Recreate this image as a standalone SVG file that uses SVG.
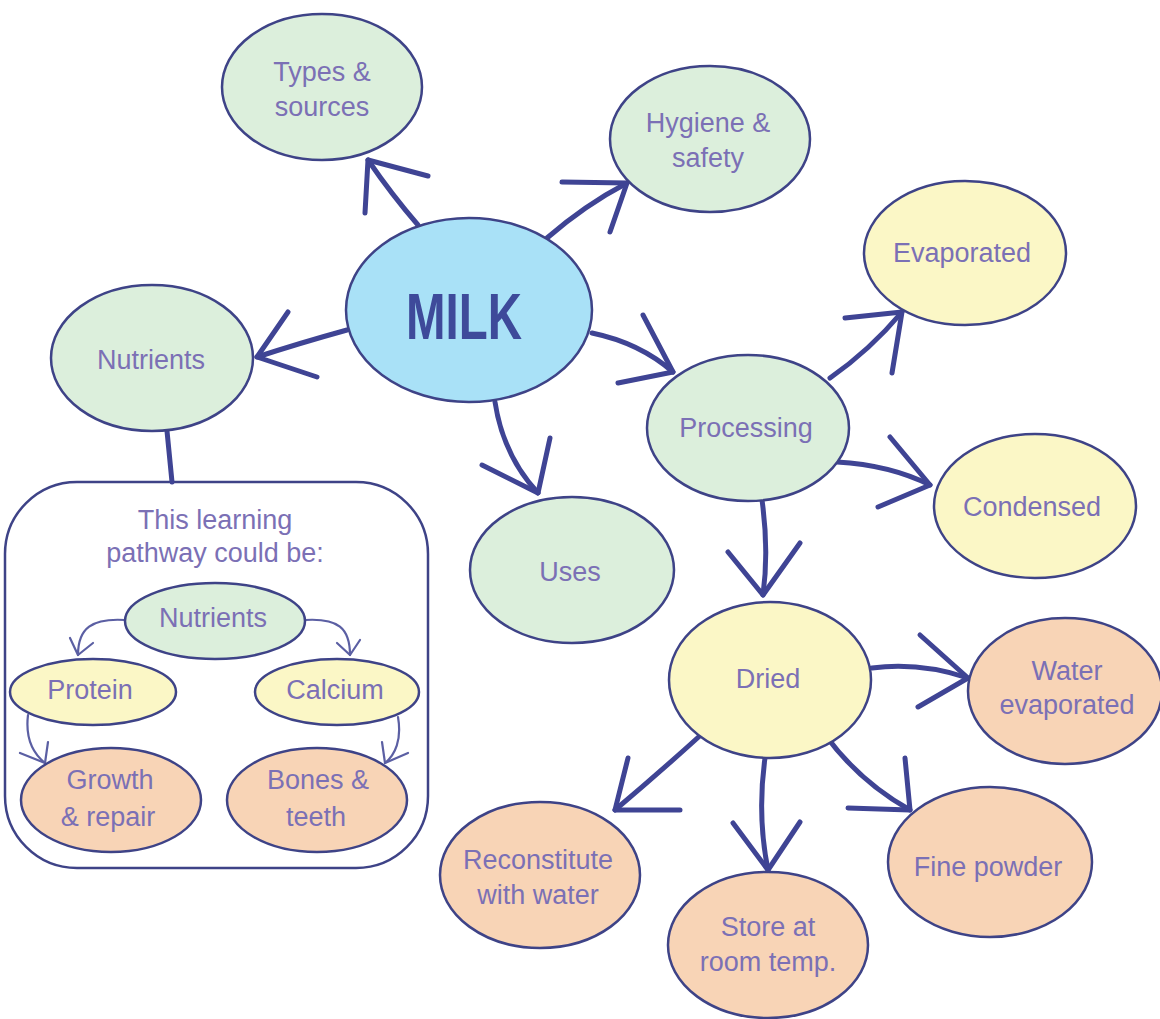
<svg xmlns="http://www.w3.org/2000/svg" width="1160" height="1019" viewBox="0 0 1160 1019">
<style>
  .node { stroke: #3e4387; stroke-width: 2.5; }
  .green { fill: #dcefdc; }
  .blue { fill: #a9e1f7; }
  .yellow { fill: #fbf7c6; }
  .orange { fill: #f8d4b6; }
  .lbl { font-family: "Liberation Sans", Arial, sans-serif; font-size: 27px; fill: #7b70b5; text-anchor: middle; }
  .conn { fill: none; stroke: #3f4494; stroke-width: 5; stroke-linecap: round; stroke-linejoin: round; }
  .thin { fill: none; stroke: #5b5fa3; stroke-width: 2.2; stroke-linecap: round; stroke-linejoin: round; }
  .box { fill: #ffffff; stroke: #3e4387; stroke-width: 2.5; }
</style>
<rect width="1160" height="1019" fill="#ffffff"/>

<g id="pathway-box">
  <rect class="box" x="5" y="482" width="423" height="386" rx="72" ry="72"/>
  <text class="lbl" x="215" y="529">This learning</text>
  <text class="lbl" x="215" y="562">pathway could be:</text>
</g>

<g id="connectors">
  <!-- MILK to Types & sources -->
  <path class="conn" d="M418,225 Q392,195 368,160"/>
  <path class="conn" d="M365,213 L368,160 L428,176"/>
  <!-- MILK to Hygiene -->
  <path class="conn" d="M547,238 Q585,205 627,183"/>
  <path class="conn" d="M562,182 L627,183 L610,232"/>
  <!-- MILK to Nutrients -->
  <path class="conn" d="M347,330 Q300,343 257,357"/>
  <path class="conn" d="M288,312 L257,357 L317,377"/>
  <!-- MILK to Processing -->
  <path class="conn" d="M592,333 Q640,343 673,372"/>
  <path class="conn" d="M643,315 L673,372 L618,383"/>
  <!-- MILK to Uses -->
  <path class="conn" d="M495,402 Q503,455 538,493"/>
  <path class="conn" d="M482,465 L538,493 L550,438"/>
  <!-- Processing to Evaporated -->
  <path class="conn" d="M830,378 Q870,350 902,312"/>
  <path class="conn" d="M845,318 L902,312 L892,373"/>
  <!-- Processing to Condensed -->
  <path class="conn" d="M837,462 Q890,465 930,485"/>
  <path class="conn" d="M890,437 L930,485 L878,507"/>
  <!-- Processing to Dried -->
  <path class="conn" d="M762,500 Q769,550 763,595"/>
  <path class="conn" d="M728,552 L763,595 L800,543"/>
  <!-- Nutrients to box -->
  <path class="conn" d="M167,431 L172,482"/>
  <!-- Dried to Water evaporated -->
  <path class="conn" d="M872,668 Q920,662 968,678"/>
  <path class="conn" d="M920,635 L968,678 L918,707"/>
  <!-- Dried to Reconstitute -->
  <path class="conn" d="M703,733 Q660,772 615,810"/>
  <path class="conn" d="M628,758 L615,810 L680,810"/>
  <!-- Dried to Store -->
  <path class="conn" d="M765,758 Q757,815 768,870"/>
  <path class="conn" d="M733,823 L768,870 L800,822"/>
  <!-- Dried to Fine powder -->
  <path class="conn" d="M826,736 Q860,782 910,810"/>
  <path class="conn" d="M905,758 L910,810 L848,808"/>
  <!-- pathway small arrows -->
  <path class="thin" d="M125,620 C92,618 78,628 78,655"/>
  <path class="thin" d="M70,638 L78,655 L93,643"/>
  <path class="thin" d="M305,620 C338,618 350,628 350,655"/>
  <path class="thin" d="M337,643 L350,655 L360,640"/>
  <path class="thin" d="M28,715 C25,740 35,755 45,763"/>
  <path class="thin" d="M20,753 L45,763 L48,742"/>
  <path class="thin" d="M398,717 C402,740 395,755 385,763"/>
  <path class="thin" d="M382,742 L385,763 L408,753"/>
</g>

<g id="types-sources">
  <ellipse class="node green" cx="322" cy="87" rx="100" ry="73"/>
  <text class="lbl" x="322" y="81">Types &amp;</text>
  <text class="lbl" x="322" y="116">sources</text>
</g>
<g id="hygiene-safety">
  <ellipse class="node green" cx="710" cy="139" rx="100" ry="73"/>
  <text class="lbl" x="708" y="132">Hygiene &amp;</text>
  <text class="lbl" x="708" y="167">safety</text>
</g>
<g id="evaporated">
  <ellipse class="node yellow" cx="965" cy="253" rx="101" ry="72"/>
  <text class="lbl" x="962" y="262">Evaporated</text>
</g>
<g id="milk">
  <ellipse class="node blue" cx="469" cy="310" rx="123" ry="92"/>
  <text x="464" y="339" font-family="Liberation Sans, Arial, sans-serif" font-size="64" font-weight="bold" fill="#3e4a9a" text-anchor="middle" textLength="116" lengthAdjust="spacingAndGlyphs">MILK</text>
</g>
<g id="nutrients">
  <ellipse class="node green" cx="152" cy="358" rx="101" ry="73"/>
  <text class="lbl" x="151" y="369">Nutrients</text>
</g>
<g id="processing">
  <ellipse class="node green" cx="748" cy="428" rx="101" ry="73"/>
  <text class="lbl" x="746" y="437">Processing</text>
</g>
<g id="condensed">
  <ellipse class="node yellow" cx="1035" cy="506" rx="101" ry="72"/>
  <text class="lbl" x="1032" y="516">Condensed</text>
</g>
<g id="uses">
  <ellipse class="node green" cx="572" cy="570" rx="102" ry="73"/>
  <text class="lbl" x="570" y="581">Uses</text>
</g>
<g id="dried">
  <ellipse class="node yellow" cx="770" cy="680" rx="101" ry="78"/>
  <text class="lbl" x="768" y="688">Dried</text>
</g>
<g id="water-evaporated">
  <ellipse class="node orange" cx="1065" cy="691" rx="97" ry="73"/>
  <text class="lbl" x="1067" y="680">Water</text>
  <text class="lbl" x="1067" y="714">evaporated</text>
</g>
<g id="reconstitute">
  <ellipse class="node orange" cx="540" cy="875" rx="100" ry="73"/>
  <text class="lbl" x="538" y="869">Reconstitute</text>
  <text class="lbl" x="538" y="904">with water</text>
</g>
<g id="store">
  <ellipse class="node orange" cx="768" cy="945" rx="100" ry="73"/>
  <text class="lbl" x="768" y="936">Store at</text>
  <text class="lbl" x="768" y="971">room temp.</text>
</g>
<g id="fine-powder">
  <ellipse class="node orange" cx="990" cy="862" rx="102" ry="75"/>
  <text class="lbl" x="988" y="876">Fine powder</text>
</g>

<g id="pw-nutrients">
  <ellipse class="node green" cx="215" cy="621" rx="90" ry="38"/>
  <text class="lbl" x="213" y="627">Nutrients</text>
</g>
<g id="pw-protein">
  <ellipse class="node yellow" cx="93" cy="692" rx="83" ry="33"/>
  <text class="lbl" x="90" y="699">Protein</text>
</g>
<g id="pw-calcium">
  <ellipse class="node yellow" cx="337" cy="692" rx="82" ry="33"/>
  <text class="lbl" x="335" y="699">Calcium</text>
</g>
<g id="pw-growth">
  <ellipse class="node orange" cx="111" cy="800" rx="90" ry="52"/>
  <text class="lbl" x="110" y="789">Growth</text>
  <text class="lbl" x="108" y="826">&amp; repair</text>
</g>
<g id="pw-bones">
  <ellipse class="node orange" cx="317" cy="800" rx="90" ry="52"/>
  <text class="lbl" x="318" y="789">Bones &amp;</text>
  <text class="lbl" x="316" y="826">teeth</text>
</g>
</svg>
